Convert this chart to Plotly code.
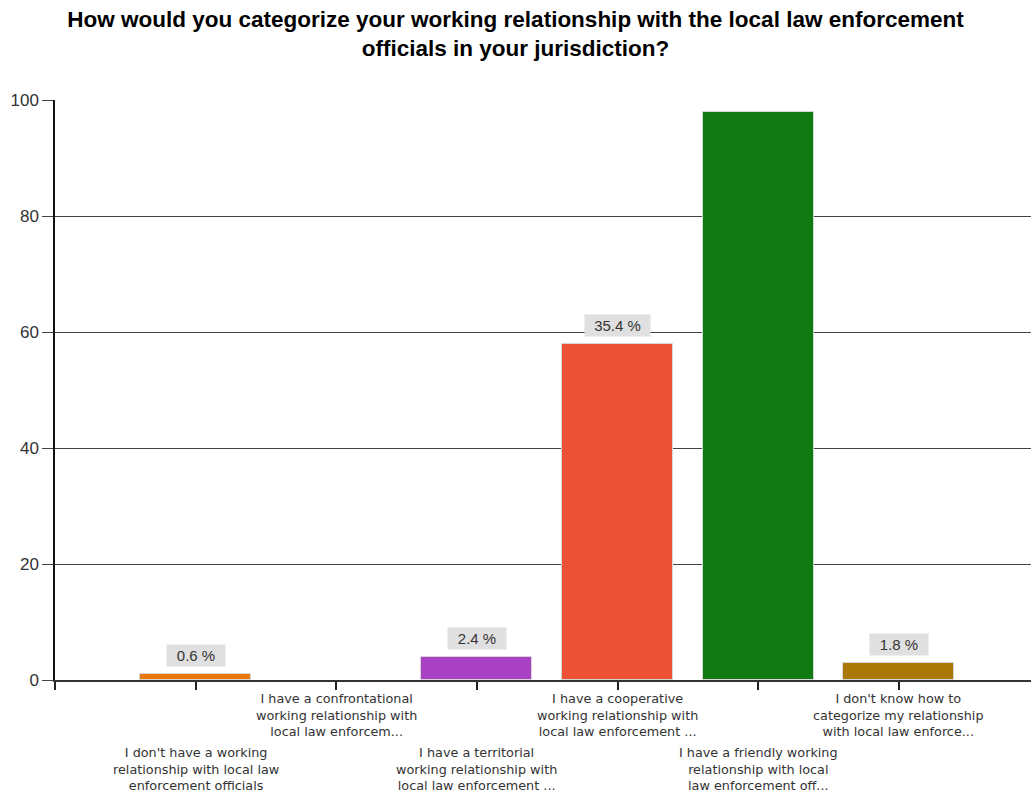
import plotly.graph_objects as go

# Survey question and answer categories
title_text = ("How would you categorize your working relationship with the local law enforcement<br>"
              "officials in your jurisdiction?")
categories = [
    "I don't have a working<br>relationship with local law<br>enforcement officials",
    "I have a confrontational<br>working relationship with<br>local law enforcem...",
    "I have a territorial<br>working relationship with<br>local law enforcement ...",
    "I have a cooperative<br>working relationship with<br>local law enforcement ...",
    "I have a friendly working<br>relationship with local<br>law enforcement off...",
    "I don't know how to<br>categorize my relationship<br>with local law enforce...",
]
# Number of responses per answer
counts = [1, 0, 4, 58, 98, 3]
bar_colors = ["#EA7806", "#E07B2A", "#A942C2", "#EE5236", "#127A12", "#A97806"]
y_ticks = [0, 20, 40, 60, 80, 100]

total = sum(counts)
percents = [c / total * 100 for c in counts]
x_pos = list(range(len(categories)))
y_max = 100

fig = go.Figure()
fig.add_trace(go.Bar(
    x=x_pos,
    y=counts,
    width=0.79,
    marker=dict(
        color=bar_colors,
        line=dict(color="#D6D6D6", width=[1 if c > 0 else 0 for c in counts]),
    ),
    hoverinfo="skip",
    showlegend=False,
))

annotations = []
# Percentage callouts above bars (those that fit under the axis top)
for i, (c, p) in enumerate(zip(counts, percents)):
    if 0 < c < 0.9 * y_max:
        label = f"{p:.1f} %"
        annotations.append(dict(
            x=i, y=c, xref="x", yref="y",
            text=label, showarrow=False,
            yanchor="bottom", yshift=7,
            bgcolor="#E0E0E0", width=7 * len(label) + 21, height=19, borderpad=1,
            font=dict(family="Liberation Sans, Arial, sans-serif", size=15, color="#333333"),
        ))

# Category labels, staggered on two rows
for i, label in enumerate(categories):
    annotations.append(dict(
        x=i, y=0, xref="x", yref="paper",
        text=label, showarrow=False,
        xanchor="center", yanchor="top",
        yshift=-9 if i % 2 == 1 else -63,
        align="center",
        font=dict(family="DejaVu Sans, sans-serif", size=12.8, color="#333333"),
    ))

fig.update_layout(
    width=1031, height=796,
    margin=dict(l=55, r=0, t=100, b=116),
    paper_bgcolor="white", plot_bgcolor="white",
    title=dict(
        text=title_text, x=0.5, xanchor="center", y=0.966, yanchor="top",
        font=dict(family="Liberation Sans, Arial, sans-serif", size=22.5, color="black", weight="bold"),
    ),
    xaxis=dict(
        range=[-1, len(categories) - 0.06],
        tickvals=[-1] + x_pos, ticktext=[""] * (len(x_pos) + 1),
        ticks="outside", ticklen=8, tickcolor="#222222", tickwidth=1.5,
        showline=True, linecolor="#333333", linewidth=1.5,
        showgrid=False, zeroline=False, fixedrange=True,
    ),
    yaxis=dict(
        range=[0, y_max], tickvals=y_ticks,
        ticks="outside", ticklen=11, tickcolor="#444444",
        showline=True, linecolor="#111111", linewidth=1.5,
        showgrid=True, gridcolor="#444444", gridwidth=1.2,
        zeroline=False,
        tickfont=dict(family="Liberation Sans, Arial, sans-serif", size=17, color="#333333"),
    ),
    annotations=annotations,
    bargap=0,
)

fig.write_html("out.html")
